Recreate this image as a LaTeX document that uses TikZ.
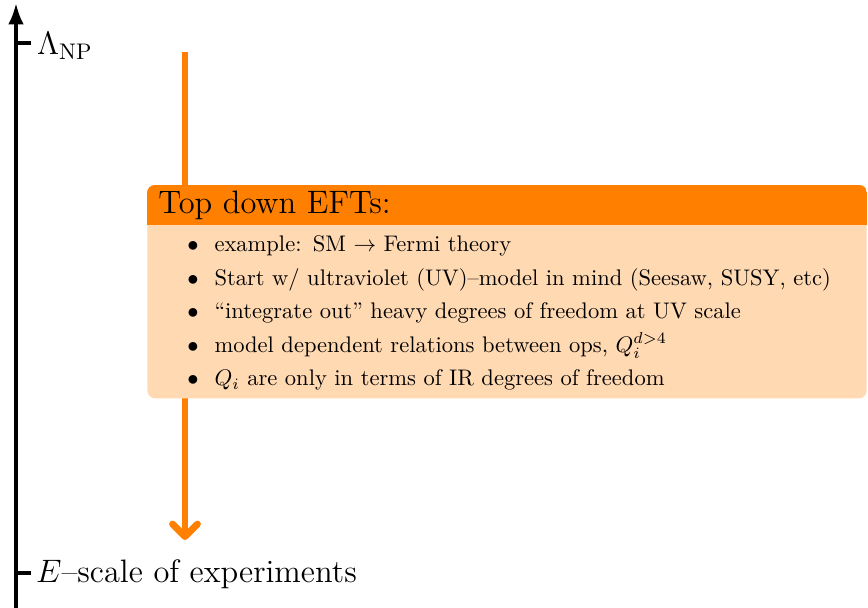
\documentclass[tikz,border=0pt]{standalone}
\usepackage{xcolor}
\usepackage{tikz}
\usetikzlibrary{positioning, arrows.meta, calc}
\definecolor{eftorange}{RGB}{255,128,0}
\definecolor{eftlight}{RGB}{255,217,178}
\newcommand{\eftitem}{\makebox[12pt][l]{$\bullet$}}

\begin{document}
\begin{tikzpicture}[x=0.4436pt, y=-0.4436pt,
    scaleaxis/.style={line width=1.7pt},
    flowline/.style={draw=eftorange, line width=3.1pt, -{Straight Barb[length=5.5pt, width=11pt, round]}},
    scalelabel/.style={anchor=base west, inner sep=2.5pt, font=\Large}]
  \useasboundingbox (0,0) rectangle (868,608);
  % energy axis with the two scales
  \draw[scaleaxis, -{Latex[length=9.5pt, width=7pt]}] (16,608) -- (16,3);
  \draw[scaleaxis] (16,43) -- (31,43);
  \draw[scaleaxis] (16,573) -- (31,573);
  \node[scalelabel] (np) at (31,55) {$\Lambda_{\mathrm{NP}}$};
  \node[scalelabel] (exp) at (30,583) {$E$--scale of experiments};
  % running down from UV to IR
  \coordinate (uv) at (185,52);
  \coordinate (ir) at (185,540);
  \draw[flowline] (uv) -- (ir);
  % the block
  \node[fill=eftlight, rounded corners=3.5pt, anchor=north west,
        minimum width=319pt, minimum height=94.5pt, inner sep=0pt] (efts) at (147,185) {};
  \begin{scope}
    \clip[rounded corners=3.5pt] (efts.south west) rectangle (efts.north east);
    \fill[eftorange] (efts.north west) rectangle ($(efts.north east)+(0,40)$);
  \end{scope}
  \node[anchor=west, font=\Large, inner sep=0pt] (eftstitle) at ($(efts.north west)+(11,20)$) {Top down EFTs:};
  \node[anchor=base west, inner sep=0pt, text width=300pt, align=left] (eftsbody) at (187,252) {%
    \eftitem example: SM $\to$ Fermi theory\\[2.86pt]
    \eftitem Start w/ ultraviolet (UV)--model in mind (Seesaw, SUSY, etc)\\[2.86pt]
    \eftitem ``integrate out'' heavy degrees of freedom at UV scale\\[2.86pt]
    \eftitem model dependent relations between ops, $Q_i^{d>4}$\\[2.86pt]
    \eftitem $Q_i$ are only in terms of IR degrees of freedom};
\end{tikzpicture}
\end{document}
